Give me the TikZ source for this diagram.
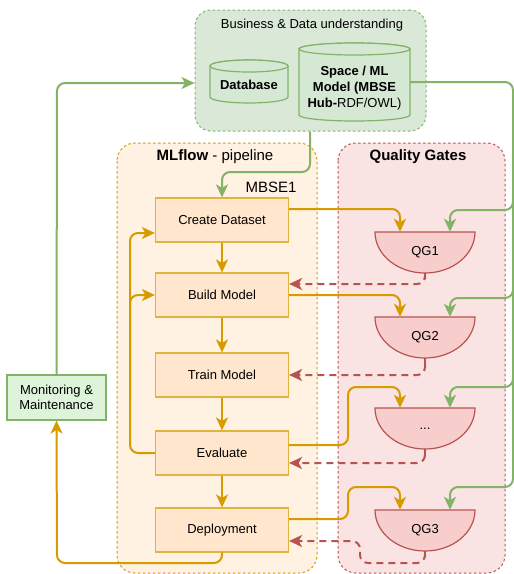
\documentclass[tikz,border=0pt]{standalone}
\usepackage{fontspec}
\setmainfont{Liberation Sans}
\usetikzlibrary{arrows.meta}
\definecolor{gstroke}{HTML}{82B366}
\definecolor{gfill}{HTML}{D5E8D4}
\definecolor{bizfill}{HTML}{DAE8D8}
\definecolor{monfill}{HTML}{DDF4DA}
\definecolor{ostroke}{HTML}{D79B00}
\definecolor{ofill}{HTML}{FFE6CC}
\definecolor{octn}{HTML}{FFF2E3}
\definecolor{rstroke}{HTML}{B85450}
\definecolor{rfill}{HTML}{F8CECC}
\definecolor{rctn}{HTML}{F9E3E3}
\newcommand{\mycyl}[4]{%
  \pgfmathsetmacro\mycylcx{(#1+#3)/2}%
  \pgfmathsetmacro\mycylrx{(#3-#1)/2}%
  \draw[cylst] (#1,#2+6) -- (#1,#4-6) arc[start angle=180,end angle=360,x radius=\mycylrx pt,y radius=6pt] -- (#3,#2+6) arc[start angle=0,end angle=180,x radius=\mycylrx pt,y radius=6pt] -- cycle;
  \draw[cylst] (\mycylcx,#2+6) ellipse[x radius=\mycylrx pt,y radius=6pt];}
\newcommand{\myqg}[2]{% center x, top y
  \draw[qgst] (#1-50,#2) -- (#1+50,#2) arc[start angle=0,end angle=-180,x radius=50pt,y radius=41pt] -- cycle;
  \draw[rstroke,line width=1.2pt] (#1,#2+41) -- (#1,#2+47);}
\begin{document}
\begin{tikzpicture}[x=1pt,y=-1pt,font=\fontsize{13}{15}\selectfont,
  ctnO/.style={draw=ostroke,fill=octn,dash pattern=on 2.5pt off 2.5pt,line width=1pt,rounded corners=18pt},
  ctnR/.style={draw=rstroke,fill=rctn,dash pattern=on 2.5pt off 2.5pt,line width=1pt,rounded corners=18pt},
  bizbox/.style={draw=gstroke,fill=bizfill,dash pattern=on 2.5pt off 2.5pt,line width=1pt,rounded corners=16pt,minimum width=231pt,minimum height=121pt,inner sep=0pt},
  cylst/.style={draw=gstroke,fill=gfill,line width=1.2pt},
  qgst/.style={draw=rstroke,fill=rfill,line width=1.2pt},
  proc/.style={draw=ostroke!75,fill=ofill,line width=1.2pt,minimum width=133pt,minimum height=44pt,inner sep=0pt},
  qgn/.style={minimum width=100pt,minimum height=41pt,inner sep=0pt},
  tip/.style={-{Stealth[length=13pt,width=12pt,inset=3.5pt]}},
  oarr/.style={tip,draw=ostroke,line width=2pt,rounded corners=8pt},
  garr/.style={tip,draw=gstroke,line width=2pt,rounded corners=8pt},
  rarr/.style={tip,draw=rstroke,line width=2pt,dash pattern=on 7pt off 5pt,rounded corners=8pt}]
\useasboundingbox (0,0) rectangle (514,574);
\clip (0,0) rectangle (514,574);
% containers
\draw[ctnO] (117,143) rectangle (317,573);
\draw[ctnR] (338,143) rectangle (505,573);
\node[font=\fontsize{15}{17}\selectfont] (mltitle) at (215,157) {\textbf{MLflow} - pipeline};
\node[font=\fontsize{15}{17}\selectfont] (qgtitle) at (418,157) {\textbf{Quality Gates}};
% business box
\node[bizbox] (biz) at (310.5,70.5) {};
\node (biztitle) at (312,25) {Business \& Data understanding};
\mycyl{210}{60}{288}{103}
\mycyl{299}{43}{410}{121}
\node[minimum width=78pt,minimum height=43pt,inner sep=0pt] (db) at (249,85) {\textbf{Database}};
\node[minimum width=111pt,minimum height=78pt,inner sep=0pt,align=center,font=\fontsize{13}{16}\selectfont] (spc) at (354.5,88) {\textbf{Space / ML}\\\textbf{Model (MBSE}\\\textbf{Hub-}RDF/OWL)};
% process boxes
\node[proc] (cd) at (222,220) {Create Dataset};
\node[proc] (bm) at (222,295) {Build Model};
\node[proc] (tm) at (222,375) {Train Model};
\node[proc] (ev) at (222,453) {Evaluate};
\node[proc] (dp) at (222,530) {Deployment};
% monitoring
\node[draw=gstroke,fill=monfill,line width=1.2pt,minimum width=99pt,minimum height=45pt,inner sep=0pt,align=center] (mon) at (56.5,397.5) {Monitoring \&\\Maintenance};
% quality gates
\myqg{425}{232}
\myqg{425}{317}
\myqg{425}{408}
\myqg{425}{510}
\node[qgn] (qg1) at (425,252.5) {QG1};
\node[qgn] (qg2) at (425,337.5) {QG2};
\node[qgn] (qgd) at (425,428.5) {...};
\node[qgn] (qg3) at (425,530.5) {QG3};
\coordinate (s1) at (425,279);
\coordinate (s2) at (425,364);
\coordinate (sd) at (425,455);
\coordinate (s3) at (425,557);
% vertical flow
\draw[oarr] (cd) -- (bm);
\draw[oarr] (bm) -- (tm);
\draw[oarr] (tm) -- (ev);
\draw[oarr] (ev) -- (dp);
% loop back
\draw[oarr] (ev.west) -- (130,453) -- (130,233) -- ([yshift=-13pt]cd.west);
\draw[oarr] (130,400) -- (130,295) -- (bm.west);
% to monitoring
\draw[oarr] (dp.south) -- (222,563) -- (57,563) -- (mon.south);
\draw[garr] (mon.north) -- (57,83) -- ([yshift=-12.5pt]biz.west);
% MBSE1
\draw[garr] (biz.south -| 310,0) -- (310,172) -- (222,172) -- (cd.north);
\node[font=\fontsize{15}{17}\selectfont] (mbse) at (271,187) {MBSE1};
% green to gates
\draw[garr] (spc.east |- 0,82) -- (513,82) -- (513,210) -- (450,210) -- ([xshift=25pt]qg1.north);
\draw[garr] (513,200) -- (513,298) -- (450,298) -- ([xshift=25pt]qg2.north);
\draw[garr] (513,290) -- (513,387) -- (450,387) -- ([xshift=25pt]qgd.north);
\draw[garr] (513,380) -- (513,487) -- (450,487) -- ([xshift=25pt]qg3.north);
% orange to gates
\draw[oarr] ([yshift=11pt]cd.east) -- (400,209) -- ([xshift=-25pt]qg1.north);
\draw[oarr] (bm.east) -- (400,295) -- ([xshift=-25pt]qg2.north);
\draw[oarr] ([yshift=8pt]ev.east) -- (348,445) -- (348,387) -- (400,387) -- ([xshift=-25pt]qgd.north);
\draw[oarr] ([yshift=11pt]dp.east) -- (348,519) -- (348,487) -- (400,487) -- ([xshift=-25pt]qg3.north);
% red feedback
\draw[rarr] (s1) -- (425,284) -- ([yshift=11pt]bm.east);
\draw[rarr] (s2) -- (425,375) -- (tm.east);
\draw[rarr] (sd) -- (425,463) -- ([yshift=-10pt]ev.east);
\draw[rarr] (s3) -- (425,563) -- (360,563) -- (360,541) -- ([yshift=-11pt]dp.east);
\end{tikzpicture}
\end{document}
